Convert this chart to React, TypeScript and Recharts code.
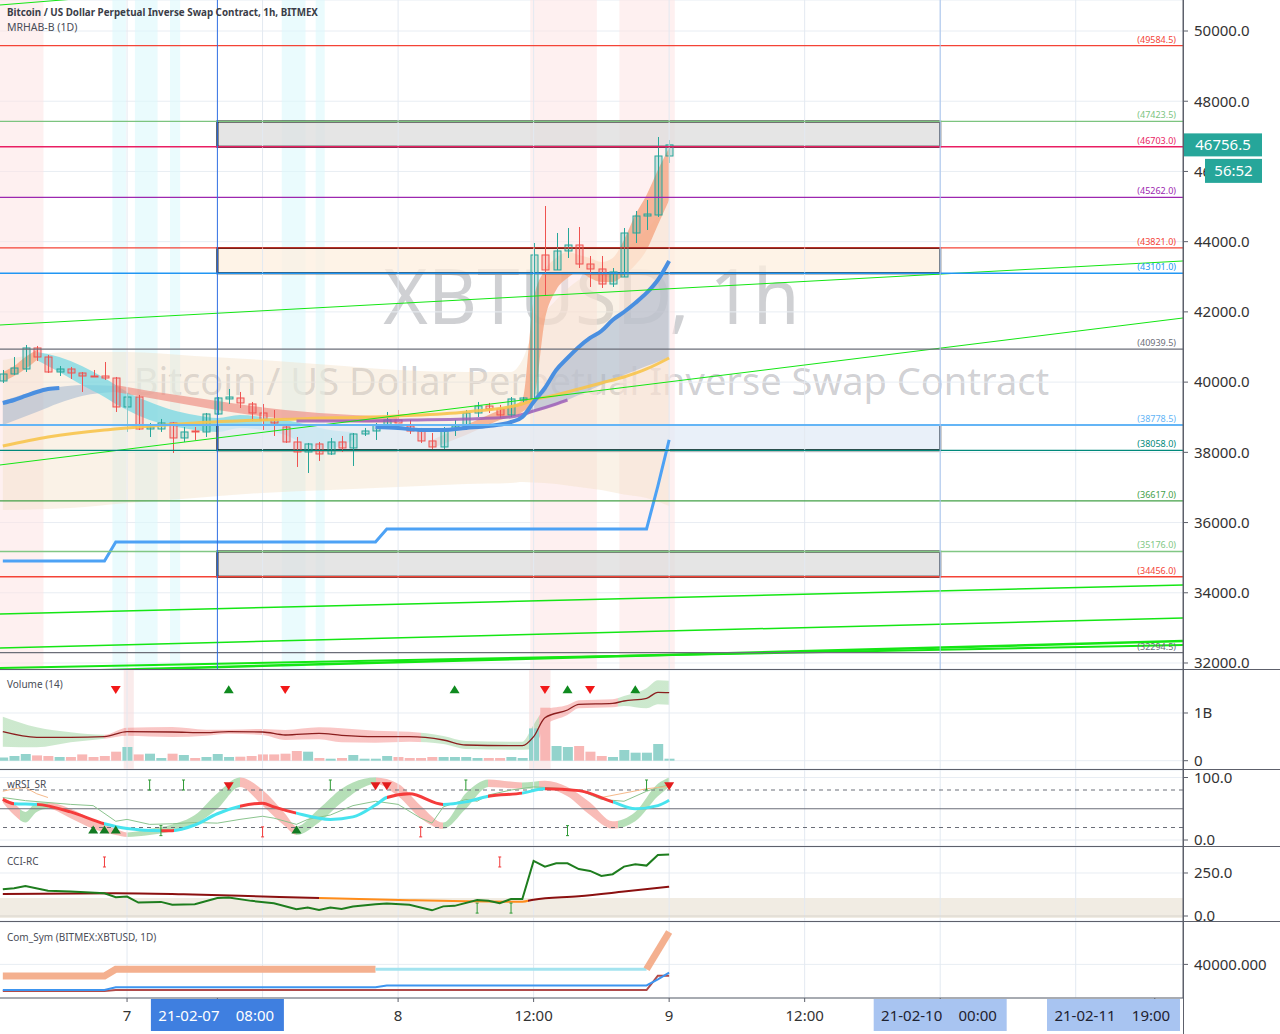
import React from 'react';
import {
  ComposedChart, Bar, Line, Area, Scatter, XAxis, YAxis, ReferenceLine, ReferenceArea, CartesianGrid, Cell,
} from 'recharts';

// ---------------- categories (hour index, 0 = 2021-02-07 00:00) ----------------
const hours = [-11,-10,-9,-8,-7,-6,-5,-4,-3,-2,-1,0,1,2,3,4,5,6,7,8,9,10,11,12,13,14,15,16,17,18,19,20,21,22,23,24,25,26,27,28,29,30,31,32,33,34,35,36,37,38,39,40,41,42,43,44,45,46,47,48];

// ---------------- candles ----------------
const opens = [40032,40231,40374,40972,40715,40288,40374,40260,40174,40174,40117,39292,39576,38665,38665,38836,38409,38608,38580,39092,39520,39548,39377,39121,38921,38722,38295,38010,38238,37953,38295,38124,38523,38608,38779,38921,38750,38608,38324,38153,38665,38722,39121,39320,39235,39064,39491,39520,43621,43194,43735,43905,43364,43222,42794,42994,44247,44731,44760,46440];
const highs = [40345,40715,41057,41029,40772,40459,40431,40288,40345,40573,40146,39690,39633,38836,38950,38864,38722,38722,39121,39576,39804,39719,39434,39377,39206,38779,38437,38267,38295,38409,38466,38551,38694,38836,39149,39206,38921,38694,38551,38722,38921,39206,39434,39406,39349,39576,39576,43962,45016,44247,44389,44418,43592,43592,43250,44389,44873,45187,46981,46896];
const lows = [39975,40203,40288,40602,40260,40174,40089,39719,40146,40060,39149,38580,38637,38437,38580,37981,38295,38352,38437,39064,39377,39263,38893,38637,38466,38267,37583,37412,37754,37925,38010,37611,38466,38352,38779,38722,38523,38267,38096,38096,38466,38637,39007,39121,38979,39007,39406,39491,42481,43194,43535,43250,42709,42681,42709,42994,43962,44332,44703,46241];
const closes = [40231,40402,40972,40715,40288,40374,40260,40174,40146,40117,39292,39576,38665,38722,38836,38409,38580,38580,39092,39548,39576,39406,39121,38921,38836,38295,38010,38238,37953,38295,38124,38523,38608,38779,38921,38836,38608,38324,38153,38608,38750,39121,39320,39235,39064,39520,39548,43621,43194,43735,43905,43364,43222,42794,43137,44247,44731,44788,46440,46756.5];
const volumesM = [69,99,140,111,99,78,78,132,78,99,189,287,132,147,57,147,119,57,78,140,78,84,99,132,132,147,203,189,57,42,57,119,42,42,99,78,57,57,78,78,78,78,57,57,57,78,57,677,1111,308,287,308,189,99,78,224,168,168,350,42];

const lastPrice = '46756.5';
const lastPriceValue = 46756.5;
const countdown = '56:52';

// ---------------- overlay studies (hour, value) ----------------
type Pt = [number, number];
type Rg = [number, number, number];
const yellowMA: Pt[] = [[-11,38181],[-7,38437],[-2,38637],[0,38694],[6,38836],[15,38950],[24,39036],[30,39149],[35,39377],[36,39491],[38,39633],[40,39804],[42,39975],[44,40146],[46,40374],[48,40687]];
const blueMALeft: Pt[] = [[-11,39405],[-10,39491],[-9,39605],[-8,39719],[-7,39804],[-6,39833]];
const blueMARight: Pt[] = [[22,38722],[24,38694],[26,38637],[28,38637],[30,38694],[32,38750],[34,38864],[35,39007],[36,39434],[37,39833],[38,40345],[39,40687],[40,41000],[41,41257],[42,41456],[43,41770],[44,41997],[45,42254],[46,42539],[47,42909],[48,43450]];
const blueBandLeft: Rg[] = [[-11,38779,39463],[-8,39149,39748],[-6,39406,39861],[-4,39605,39918],[-1,39719,39890]];
const blueBandRight: Rg[] = [[35,38978,39007],[36,39149,39434],[37,39250,39833],[38,39348,40345],[39,39490,40687],[40,39633,41000],[41,39776,41257],[42,39918,41456],[43,40060,41770],[44,40203,41997],[45,40330,42254],[46,40459,42539],[47,40580,42909],[48,40716,43450]];
const purpleMA: Pt[] = [[15,38893],[20,38893],[25,38921],[30,38950],[34,39007],[36,39177],[38,39377],[39,39491]];
const haOrangeLeft: Rg[] = [[-11,40004,40289],[-10,40175,40459],[-9,40374,40716],[-8,40630,40915]];
const haCyan: Rg[] = [[-8,40630,40858],[-6,40289,40716],[-4,39918,40459],[-2,39577,40118],[-1,39377,39918],[0,39206,39719],[2,38921,39434],[4,38750,39206],[6,38637,39064],[8,38580,38978],[10,38694,39064],[12,38637,39007],[14,38495,38921],[16,38209,38779],[18,38124,38637],[20,38352,38580]];
const haSalmon: Rg[] = [[-1,39719,39918],[2,39548,39748],[5,39377,39605],[8,39206,39463],[11,39064,39320],[14,38950,39206],[17,38893,39121],[20,38864,39064],[24,38836,39007]];
const haOrangeRight: Rg[] = [[27,38124,38352],[30,38495,38779],[33,38921,39206],[35,39149,39491],[36,39491,42339],[37,41770,43193],[38,42624,43535],[39,42966,43706],[40,43136,43621],[41,42966,43535],[42,42852,43421],[43,42852,43535],[44,43051,44048],[45,43336,44760],[46,43763,45329],[47,44475,46041],[48,45187,46668]];
const envelope: Rg[] = [[-11,36358,40630],[-5,36415,40858],[0,36558,40858],[6,36701,40744],[12,36843,40630],[18,36928,40487],[24,37014,40345],[30,37099,40289],[34,37130,40289],[35,37156,40630],[36,37140,41485],[38,37099,42339],[40,37014,42909],[42,36928,43193],[44,36800,43763],[46,36701,44333],[48,36472,45187]];
const dailyStep: Pt[] = [[-11,34906],[-2,34906],[-1,35447],[22,35447],[23,35817],[46,35817],[47,37040],[48,38352]];

const levels = [49584.5, 47423.5, 46703.0, 45262.0, 43821.0, 43101.0, 40939.5, 38778.5, 38058.0, 36617.0, 35176.0, 34456.0, 32294.5];
const levelColors = ['#f44336','#7cc47f','#e91e63','#9c27b0','#f44336','#2196f3','#6b6e78','#64b5f6','#00897b','#43a047','#81c784','#f44336','#6b6e78'];
const zones: Pt[] = [[46703.0, 47423.5],[43101.0, 43821.0],[38058.0, 38778.5],[34456.0, 35176.0]];
const zoneFills = ['#dcdcdc','#fdefdf','#e2ebf7','#dcdcdc'];
const zoneStart = 8, zoneEnd = 72;
const trendLines: [Pt, Pt][] = [
  [[-11.25,50741],[93.5,53446]],
  [[-11.25,41627],[93.5,43450]],
  [[-11.25,37640],[93.5,41826]],
  [[-11.25,33396],[93.5,34223]],
  [[-11.25,32428],[93.5,33282]],
  [[-11.25,31858],[93.5,32513]],
  [[-11.25,31716],[93.5,32627]],
];
const trendWidths = [1, 1, 1, 1.5, 1.5, 2, 2.5];
const pinkSessions: Pt[] = [[-11.25,-7.4],[35.7,41.6],[43.6,48.5]];
const cyanSessions: Pt[] = [[-1.3,-0.1],[0.7,2.7],[3.8,4.7],[13.7,15.8],[16.7,17.5]];

// ---------------- volume study ----------------
const volMA: Pt[] = [[-11,608],[-8,490],[-5,490],[-2,503],[0,608],[4,602],[7,587],[9,608],[12,602],[14,539],[17,574],[19,532],[22,503],[25,503],[28,434],[30,329],[35,314],[36,503],[37,901],[39,1063],[40,1182],[43,1203],[44,1251],[46,1308],[47,1434],[48,1425]];
const volBand: Rg[] = [[-11,293,923],[-8,280,700],[-5,385,595],[-2,461,545],[0,524,692],[4,497,707],[7,524,650],[9,566,650],[12,539,665],[14,434,644],[17,448,700],[19,385,679],[22,377,629],[25,398,608],[28,350,518],[30,245,413],[35,230,398],[36,251,755],[37,733,1069],[39,958,1168],[40,1098,1266],[43,1119,1287],[44,1146,1356],[46,1098,1518],[47,1182,1686],[48,1173,1677]];
const volBandState: Pt[] = [[-11,1],[-2,-1],[26,1],[36.5,-1],[43.5,1]];
const volSellSignals = [-1, 14, 37, 41];
const volBuySignals = [9, 29, 39, 45];
const volHighlights: Pt[] = [[-0.3,0.6],[35.6,37.5]];

// ---------------- wRSI_SR ----------------
const rsiMain: Pt[] = [[-11,65],[-10,58],[-8,57],[-5,45],[-2,26],[0,18.5],[3,15],[4,15],[6,24],[8,42],[10,54],[12,59],[13,53],[15,43],[18,33],[20,37],[22,56],[23,68],[25,74],[28,57],[30,61],[32,70],[35,75],[37,82],[40,79],[43,61],[45,50],[47,55],[48,63.5]];
const rsiMainState: Pt[] = [[-11,-1],[-10,1],[-8,-1],[-2,1],[3,-1],[4.2,1],[10,-1],[15,1],[23,-1],[28,1],[32,-1],[35,1],[37,-1],[43,1]];
const rsiRibbon: Rg[] = [[-11,60,68],[-10,40,58],[-9,28,45],[-8,45,60],[-7,50,60],[-5,35,50],[-3,18,32],[-1,8,18],[0,5,12],[2,8,18],[4,14,25],[6,25,40],[8,50,75],[10,85,100],[12,55,80],[14,22,42],[15,8,22],[17,28,50],[19,60,82],[21,85,98],[22,90,100],[24,70,90],[26,35,55],[28,18,28],[30,50,75],[32,85,97],[35,82,92],[37,82,95],[39,70,85],[41,40,60],[43,18,30],[45,30,45],[47,70,90],[48,85,100]];
const rsiRibbonState: Pt[] = [[-11,-1],[-9.5,1],[-7,-1],[0,1],[10,-1],[15,1],[22,-1],[28,1],[32,-1],[35,1],[36.5,-1],[43.5,1]];
const rsiRaw: Pt[] = [[-11,68],[-9,63],[-7,60],[-5,57],[-3,55],[-1,30],[0,33],[2,25],[4,26],[6,28],[8,27],[10,33],[12,38],[13,35],[15,25],[16,33],[18,40],[20,55],[22,62],[24,57],[26,35],[27,27],[28,53],[30,65],[31,62],[32,72],[34,80],[36,85],[38,83],[40,80],[42,65],[44,62],[46,78],[47,84],[48,88]];
const rsiSlowA: Pt[] = [[-11,78],[-10,82],[-9,84],[-8,74],[-7,68]];
const rsiSlowB: Pt[] = [[42,68],[44,75],[46,82],[48,86]];
const rsiTopGreenTicks = [2, 5, 18, 30, 46];
const rsiBottomGreenTicks = [3, 39];
const rsiBottomRedTicks = [12, 26];
const rsiBuyTriangles = [-3, -2, -1, 15];
const rsiSellTriangles = [9, 22, 23, 48];

// ---------------- CCI-RC ----------------
const cci: Pt[] = [[-11,155],[-10,161],[-9,174],[-7,147],[-5,142],[-2,132],[-1,109],[0,113],[1,78],[3,82],[4,65],[6,69],[8,104],[9,107],[11,88],[13,74],[15,39],[16,49],[17,35],[18,49],[19,41],[20,55],[22,69],[23,72],[25,65],[27,33],[28,56],[29,59],[31,93],[32,89],[33,74],[34,99],[35,99],[36,320],[37,287],[38,306],[39,306],[40,273],[41,262],[42,233],[43,243],[44,287],[45,301],[46,293],[47,355],[48,357]];
const cciSignal: Pt[] = [[-11,128],[-1,132],[5,126],[10,118],[17,104],[25,92],[30,86],[35,83],[36,95],[40,115],[44,142],[48,170]];
const cciSignalState: Pt[] = [[-11,1],[17,-1],[35.5,1]];
const cciRedTicks = [-2, 33];
const cciGreenTicks = [31, 34];

// ---------------- Com_Sym ----------------
const comSalmonA: Pt[] = [[-11,37692],[-2,37692],[-1,39025],[22,39025]];
const comCyan: Pt[] = [[22,39025],[46,39025]];
const comSalmonB: Pt[] = [[46,39025],[48,46448]];
const comRed: Pt[] = [[-11,34707],[-2,34707],[-1,34906],[46,34906],[47,37751],[48,37751]];

// ---------------- time axis ----------------
const timeTicks = [0, 8, 24, 36, 48, 60, 72, 91];
const timeTickLabels = ['7', '21-02-07 08:00', '8', '12:00', '9', '12:00', '21-02-10 00:00', '21-02-11 19:00'];
const timeTickKinds = [0, 2, 0, 0, 0, 0, 1, 1];
const gridHours = [0, 12, 24, 36, 48, 60, 72, 84];

// ---------------- build tables ----------------
const rows = hours.map((h, i) => ({
  h, open: opens[i], high: highs[i], low: lows[i], close: closes[i],
  range: [lows[i], highs[i]], vol: volumesM[i], up: closes[i] >= opens[i],
}));
const pts = (a: Pt[]) => a.map(([h, v]) => ({ h, v }));
const rgs = (a: Rg[]) => a.map(([h, lo, hi]) => ({ h, v: [lo, hi] }));
const marks = (a: number[], v: number) => a.map((h) => ({ h, v }));

const X_DOMAIN: [number, number] = [-11.25, 93.5];
const MAIN_DOMAIN: [number, number] = [31829, 50883];
const H0 = -11, H1 = 48;
const FONT = '"Noto Sans", "DejaVu Sans", sans-serif';

function segGradient(id: string, segs: Pt[], up: string, down: string, op = 1) {
  const stops: any[] = [];
  segs.forEach(([hs, s], i) => {
    const he = i + 1 < segs.length ? segs[i + 1][0] : H1;
    const c = s > 0 ? up : down;
    stops.push(<stop key={i + 'a'} offset={`${((hs - H0) / (H1 - H0)) * 100}%`} stopColor={c} stopOpacity={op} />);
    stops.push(<stop key={i + 'b'} offset={`${((he - H0) / (H1 - H0)) * 100}%`} stopColor={c} stopOpacity={op} />);
  });
  return <linearGradient id={id} x1="0" y1="0" x2="1" y2="0">{stops}</linearGradient>;
}

const Candle = (props: any) => {
  const { x, y, width, height, payload } = props;
  if (!payload || x == null) return null;
  const top = Math.min(y, y + height);
  const hh = Math.abs(height);
  const span = payload.high - payload.low;
  const py = (v: number) => (span > 0 ? top + ((payload.high - v) / span) * hh : top);
  const up = payload.close >= payload.open;
  const col = up ? '#26a69a' : '#ef5350';
  const fill = up ? 'rgba(38,166,154,0.22)' : 'rgba(239,83,80,0.22)';
  const yo = py(payload.open), yc = py(payload.close);
  const bt = Math.min(yo, yc), bh = Math.max(Math.abs(yo - yc), 1);
  const cx = Math.round(x + width / 2) + 0.5;
  return (
    <g>
      <line x1={cx} x2={cx} y1={top} y2={top + hh} stroke={col} strokeWidth={1} />
      <rect x={cx - 3.5} y={bt} width={7} height={bh} fill={fill} stroke={col} strokeWidth={1} />
    </g>
  );
};

const triDown = (color: string) => (p: any) => (
  <path d={`M${p.cx - 5},${p.cy - 4}L${p.cx + 5},${p.cy - 4}L${p.cx},${p.cy + 4}Z`} fill={color} />
);
const triUp = (color: string) => (p: any) => (
  <path d={`M${p.cx - 5},${p.cy + 4}L${p.cx + 5},${p.cy + 4}L${p.cx},${p.cy - 4}Z`} fill={color} />
);
const iMark = (color: string) => (p: any) => (
  <path d={`M${p.cx - 1.5},${p.cy - 5}H${p.cx + 1.5}M${p.cx},${p.cy - 5}V${p.cy + 5}M${p.cx - 1.5},${p.cy + 5}H${p.cx + 1.5}`} stroke={color} strokeWidth={1} fill="none" />
);

const levelLabel = (text: string, color: string) => (props: any) => {
  const vb = props.viewBox;
  if (!vb) return null;
  return (
    <text x={vb.x + vb.width - 7} y={vb.y - 3} textAnchor="end" fontSize={9} fill={color} fontFamily={FONT}>{text}</text>
  );
};

const LastPriceLabel = (props: any) => {
  const vb = props.viewBox;
  if (!vb) return null;
  const x0 = vb.x + vb.width;
  const yc = vb.y;
  return (
    <g fontFamily={FONT}>
      <rect x={x0} y={yc - 11.5} width={79} height={23} fill="#26a69a" />
      <text x={x0 + 40} y={yc + 5.5} textAnchor="middle" fontSize={15} fill="#fff">{lastPrice}</text>
      <rect x={x0 + 22} y={yc + 14} width={57} height={24} fill="#26a69a" />
      <text x={x0 + 50.5} y={yc + 31.5} textAnchor="middle" fontSize={15} fill="#fff">{countdown}</text>
    </g>
  );
};

const TimeTick = (props: any) => {
  const { x, y, payload } = props;
  const i = timeTicks.indexOf(payload.value);
  if (i < 0) return null;
  const label = timeTickLabels[i];
  const kind = timeTickKinds[i];
  const top = y - 6;
  if (kind === 0) {
    return <text x={x} y={top + 23} textAnchor="middle" fontSize={15} fill="#333" fontFamily={FONT}>{label}</text>;
  }
  const w = 133;
  let bx = x - w / 2;
  if (bx + w > 1180) bx = 1180 - w;
  const [d, t] = label.split(' ');
  const fg = kind === 2 ? '#fff' : '#1e2230';
  return (
    <g fontFamily={FONT}>
      <rect x={bx} y={top + 1} width={w} height={32} fill={kind === 2 ? '#3f7fe0' : '#a8c4f1'} />
      <text x={bx + 38} y={top + 23} textAnchor="middle" fontSize={15} fill={fg}>{d}</text>
      <text x={bx + 104} y={top + 23} textAnchor="middle" fontSize={15} fill={fg}>{t}</text>
    </g>
  );
};

const zero = { top: 0, right: 0, bottom: 0, left: 0 };
const axisTick = { fontSize: 15, fill: '#333', fontFamily: FONT };

const hiddenX = () => <XAxis dataKey="h" type="number" domain={X_DOMAIN} allowDataOverflow hide />;
const rightY = (domain: [number, number], ticks: number[], fmt: (v: number) => string) => (
  <YAxis orientation="right" width={97} type="number" domain={domain} allowDataOverflow ticks={ticks} interval={0}
    tickFormatter={fmt} tick={axisTick} tickSize={5} tickMargin={6}
    axisLine={{ stroke: '#5d606b' }} tickLine={{ stroke: '#5d606b' }} />
);
const vGrid = (prefix: string) => gridHours.map((g) => (
  <ReferenceLine key={prefix + g} x={g} stroke="#e3e9f1" strokeWidth={1} ifOverflow="hidden" />
));
const noDot = { dot: false, activeDot: false, isAnimationActive: false };

export default function App() {
  return (
    <div style={{ position: 'absolute', left: 0, top: 0, width: 1280, height: 1034, background: '#fff', overflow: 'hidden', fontFamily: FONT }}>
      <style>{'.recharts-surface{overflow:visible}'}</style>
      {/* watermark */}
      <div style={{ position: 'absolute', left: 0, top: 245, width: 1183, textAlign: 'center', fontSize: 76, lineHeight: '100px', color: 'rgba(95,98,108,0.3)' }}>XBTUSD, 1h</div>
      <div style={{ position: 'absolute', left: 0, top: 355, width: 1183, textAlign: 'center', fontSize: 38, lineHeight: '50px', color: 'rgba(95,98,108,0.3)' }}>Bitcoin / US Dollar Perpetual Inverse Swap Contract</div>

      {/* main price pane */}
      <div style={{ position: 'absolute', left: 0, top: 0 }}>
        <ComposedChart width={1280} height={669} data={rows} margin={zero}>
          {hiddenX()}
          {rightY(MAIN_DOMAIN, [32000, 34000, 36000, 38000, 40000, 42000, 44000, 46000, 48000, 50000], (v) => v.toFixed(1))}
          <CartesianGrid vertical={false} stroke="#e8edf3" />
          {vGrid('m')}
          {pinkSessions.map(([a, b], i) => (
            <ReferenceArea key={'ps' + i} x1={a} x2={b} fill="#fde3e3" fillOpacity={0.55} stroke="none" ifOverflow="hidden" />
          ))}
          {cyanSessions.map(([a, b], i) => (
            <ReferenceArea key={'cs' + i} x1={a} x2={b} fill="#dcf8fb" fillOpacity={0.6} stroke="none" ifOverflow="hidden" />
          ))}
          <Area data={rgs(envelope)} dataKey="v" type="monotone" fill="#f2dcc0" fillOpacity={0.38} stroke="none" {...noDot} />
          <Area data={rgs(blueBandLeft)} dataKey="v" type="monotone" fill="#8fa8c9" fillOpacity={0.45} stroke="none" {...noDot} />
          <Area data={rgs(blueBandRight)} dataKey="v" type="monotone" fill="#8fa8c9" fillOpacity={0.45} stroke="none" {...noDot} />
          <Area data={rgs(haOrangeLeft)} dataKey="v" type="monotone" fill="#f4a27c" fillOpacity={0.75} stroke="none" {...noDot} />
          <Area data={rgs(haCyan)} dataKey="v" type="monotone" fill="#6fd6e2" fillOpacity={0.7} stroke="none" {...noDot} />
          <Area data={rgs(haSalmon)} dataKey="v" type="monotone" fill="#ee8a80" fillOpacity={0.65} stroke="none" {...noDot} />
          <Area data={rgs(haOrangeRight)} dataKey="v" type="monotone" fill="#f4a27c" fillOpacity={0.75} stroke="none" {...noDot} />
          <Line data={pts(yellowMA)} dataKey="v" type="monotone" stroke="#f7c44c" strokeWidth={3} strokeOpacity={0.9} {...noDot} />
          <Line data={pts(purpleMA)} dataKey="v" type="monotone" stroke="#9b59b6" strokeWidth={3} strokeOpacity={0.8} {...noDot} />
          <Line data={pts(blueMALeft)} dataKey="v" type="monotone" stroke="#4a8fe0" strokeWidth={4} {...noDot} />
          <Line data={pts(blueMARight)} dataKey="v" type="monotone" stroke="#4a8fe0" strokeWidth={4} {...noDot} />
          <Line data={pts(dailyStep)} dataKey="v" type="linear" stroke="#4da2f5" strokeWidth={3} {...noDot} />
          {trendLines.map((seg, i) => (
            <ReferenceLine key={'tl' + i} segment={[{ x: seg[0][0], y: seg[0][1] }, { x: seg[1][0], y: seg[1][1] }]}
              stroke="#14e614" strokeWidth={trendWidths[i]} ifOverflow="hidden" />
          ))}
          {levels.map((lv, i) => (
            <ReferenceLine key={'lv' + i} y={lv} stroke={levelColors[i]} strokeWidth={i === 7 ? 2 : 1.3} ifOverflow="hidden"
              label={levelLabel(`(${lv.toFixed(1)})`, levelColors[i])} />
          ))}
          <Bar dataKey="range" barSize={8} shape={Candle} isAnimationActive={false} />
          {zones.map(([lo, hi], i) => (
            <ReferenceArea key={'z' + i} x1={zoneStart} x2={zoneEnd} y1={lo} y2={hi} fill={zoneFills[i]} fillOpacity={0.75}
              stroke="#000" strokeWidth={2} ifOverflow="hidden" />
          ))}
          <ReferenceLine x={8} stroke="#2f6fe4" strokeWidth={1} />
          <ReferenceLine x={72} stroke="#a8c4ee" strokeWidth={1} />
        </ComposedChart>
      </div>

      {/* last price labels drawn over the price scale */}
      <div style={{ position: 'absolute', left: 0, top: 0 }}>
        <ComposedChart width={1280} height={669} data={rows} margin={zero}>
          {hiddenX()}
          <YAxis orientation="right" width={97} type="number" domain={MAIN_DOMAIN} allowDataOverflow tick={false} axisLine={false} tickLine={false} />
          <ReferenceLine y={lastPriceValue} stroke="none" label={LastPriceLabel} />
        </ComposedChart>
      </div>

      {/* volume pane */}
      <div style={{ position: 'absolute', left: 0, top: 670 }}>
        <ComposedChart width={1280} height={99} data={rows} margin={zero}>
          <defs>{segGradient('volGrad', volBandState, '#66bb6a', '#ef5350', 0.33)}</defs>
          {hiddenX()}
          {rightY([-174, 1901], [0, 1000], (v) => (v === 0 ? '0' : '1B'))}
          <CartesianGrid vertical={false} stroke="#e8edf3" />
          {vGrid('v')}
          {volHighlights.map(([a, b], i) => (
            <ReferenceArea key={'vh' + i} x1={a} x2={b} fill="#f6dede" fillOpacity={0.6} stroke="none" />
          ))}
          <Area data={rgs(volBand)} dataKey="v" type="monotone" fill="url(#volGrad)" fillOpacity={1} stroke="none" {...noDot} />
          <Bar dataKey="vol" barSize={10} isAnimationActive={false}>
            {rows.map((r, i) => <Cell key={i} fill={r.up ? '#93d3cc' : '#f8b7b5'} />)}
          </Bar>
          <Line data={pts(volMA)} dataKey="v" type="monotone" stroke="#8b1e1e" strokeWidth={1.3} {...noDot} />
          <Scatter data={marks(volSellSignals, 1482)} dataKey="v" shape={triDown('#f21818')} isAnimationActive={false} />
          <Scatter data={marks(volBuySignals, 1500)} dataKey="v" shape={triUp('#0f8a1f')} isAnimationActive={false} />
        </ComposedChart>
      </div>

      {/* wRSI pane */}
      <div style={{ position: 'absolute', left: 0, top: 770 }}>
        <ComposedChart width={1280} height={76} data={rows} margin={zero}>
          <defs>
            {segGradient('rsiGrad', rsiMainState, '#47e3ee', '#f53b3b', 1)}
            {segGradient('ribGrad', rsiRibbonState, '#5cb860', '#f16a5f', 0.45)}
          </defs>
          {hiddenX()}
          {rightY([-9.6, 112], [0, 100], (v) => v.toFixed(1))}
          <CartesianGrid vertical={false} stroke="#e8edf3" />
          {vGrid('r')}
          <ReferenceLine y={80} stroke="#6b6e78" strokeDasharray="4 4" />
          <ReferenceLine y={50} stroke="#6b6e78" />
          <ReferenceLine y={20} stroke="#6b6e78" strokeDasharray="4 4" />
          <Area data={rgs(rsiRibbon)} dataKey="v" type="monotone" fill="url(#ribGrad)" fillOpacity={1} stroke="none" {...noDot} />
          <Line data={pts(rsiRaw)} dataKey="v" type="linear" stroke="#8bc48e" strokeWidth={1} {...noDot} />
          <Line data={pts(rsiSlowA)} dataKey="v" type="linear" stroke="#f5b98a" strokeWidth={1} {...noDot} />
          <Line data={pts(rsiSlowB)} dataKey="v" type="linear" stroke="#f5b98a" strokeWidth={1} {...noDot} />
          <Line data={pts(rsiMain)} dataKey="v" type="monotone" stroke="url(#rsiGrad)" strokeWidth={3} {...noDot} />
          <Scatter data={marks(rsiTopGreenTicks, 88)} dataKey="v" shape={iMark('#2e9a35')} isAnimationActive={false} />
          <Scatter data={marks(rsiBottomGreenTicks, 15)} dataKey="v" shape={iMark('#2e9a35')} isAnimationActive={false} />
          <Scatter data={marks(rsiBottomRedTicks, 13)} dataKey="v" shape={iMark('#f23b3b')} isAnimationActive={false} />
          <Scatter data={marks(rsiBuyTriangles, 17)} dataKey="v" shape={triUp('#137a22')} isAnimationActive={false} />
          <Scatter data={marks(rsiSellTriangles, 86)} dataKey="v" shape={triDown('#e31c1c')} isAnimationActive={false} />
        </ComposedChart>
      </div>

      {/* CCI pane */}
      <div style={{ position: 'absolute', left: 0, top: 847 }}>
        <ComposedChart width={1280} height={74} data={rows} margin={zero}>
          <defs>{segGradient('cciGrad', cciSignalState, '#8b1010', '#ff8c1a', 1)}</defs>
          {hiddenX()}
          {rightY([-29, 401], [0, 250], (v) => v.toFixed(1))}
          <CartesianGrid vertical={false} stroke="#e8edf3" />
          {vGrid('c')}
          <ReferenceArea y1={-12} y2={104} fill="#f1ece3" fillOpacity={1} stroke="none" ifOverflow="hidden" />
          <ReferenceLine y={0} stroke="#d8d4cc" />
          <Line data={pts(cciSignal)} dataKey="v" type="monotone" stroke="url(#cciGrad)" strokeWidth={2} {...noDot} />
          <Line data={pts(cci)} dataKey="v" type="linear" stroke="#1e7d1e" strokeWidth={2} {...noDot} />
          <Scatter data={marks(cciRedTicks, 314)} dataKey="v" shape={iMark('#f23b3b')} isAnimationActive={false} />
          <Scatter data={marks(cciGreenTicks, 46)} dataKey="v" shape={iMark('#2e9a35')} isAnimationActive={false} />
        </ComposedChart>
      </div>

      {/* Com_Sym pane + time axis */}
      <div style={{ position: 'absolute', left: 0, top: 922 }}>
        <ComposedChart width={1280} height={112} data={rows} margin={zero}>
          <XAxis dataKey="h" type="number" domain={X_DOMAIN} allowDataOverflow ticks={timeTicks} interval={0} height={36}
            tick={TimeTick} tickSize={4} tickMargin={2} axisLine={{ stroke: '#5d606b' }} tickLine={{ stroke: '#5d606b' }} />
          {rightY([33314, 48438], [40000], (v) => v.toFixed(3))}
          <CartesianGrid vertical={false} stroke="#e8edf3" />
          {vGrid('s')}
          <Line data={pts(comSalmonA)} dataKey="v" type="linear" stroke="#f4b08f" strokeWidth={7} {...noDot} />
          <Line data={pts(comCyan)} dataKey="v" type="linear" stroke="#a3e3ef" strokeWidth={3} {...noDot} />
          <Line data={pts(comSalmonB)} dataKey="v" type="linear" stroke="#f4b08f" strokeWidth={7} {...noDot} />
          <Line data={pts(comRed)} dataKey="v" type="linear" stroke="#b04a4a" strokeWidth={2} {...noDot} />
          <Line data={pts(dailyStep)} dataKey="v" type="linear" stroke="#3d95f0" strokeWidth={2} {...noDot} />
        </ComposedChart>
      </div>

      {/* pane separators */}
      {[669, 769, 846, 921].map((t) => (
        <div key={t} style={{ position: 'absolute', left: 0, top: t, width: 1280, height: 1, background: '#5d606b' }} />
      ))}
      <div style={{ position: 'absolute', left: 1183, top: 0, width: 1, height: 1034, background: '#5d606b' }} />

      {/* legends */}
      <div style={{ position: 'absolute', left: 7, top: 6, fontSize: 9.8, fontWeight: 700, color: '#3a3d47', whiteSpace: 'nowrap' }}>Bitcoin / US Dollar Perpetual Inverse Swap Contract, 1h, BITMEX</div>
      <div style={{ position: 'absolute', left: 7, top: 20, fontSize: 10.5, color: '#4a4d57', whiteSpace: 'nowrap' }}>MRHAB-B (1D)</div>
      <div style={{ position: 'absolute', left: 7, top: 677, fontSize: 10, color: '#4a4d57' }}>Volume (14)</div>
      <div style={{ position: 'absolute', left: 7, top: 777, fontSize: 10, color: '#4a4d57' }}>wRSI_SR</div>
      <div style={{ position: 'absolute', left: 7, top: 854, fontSize: 10, color: '#4a4d57' }}>CCI-RC</div>
      <div style={{ position: 'absolute', left: 7, top: 930, fontSize: 10, color: '#4a4d57', whiteSpace: 'nowrap' }}>Com_Sym (BITMEX:XBTUSD, 1D)</div>
    </div>
  );
}
